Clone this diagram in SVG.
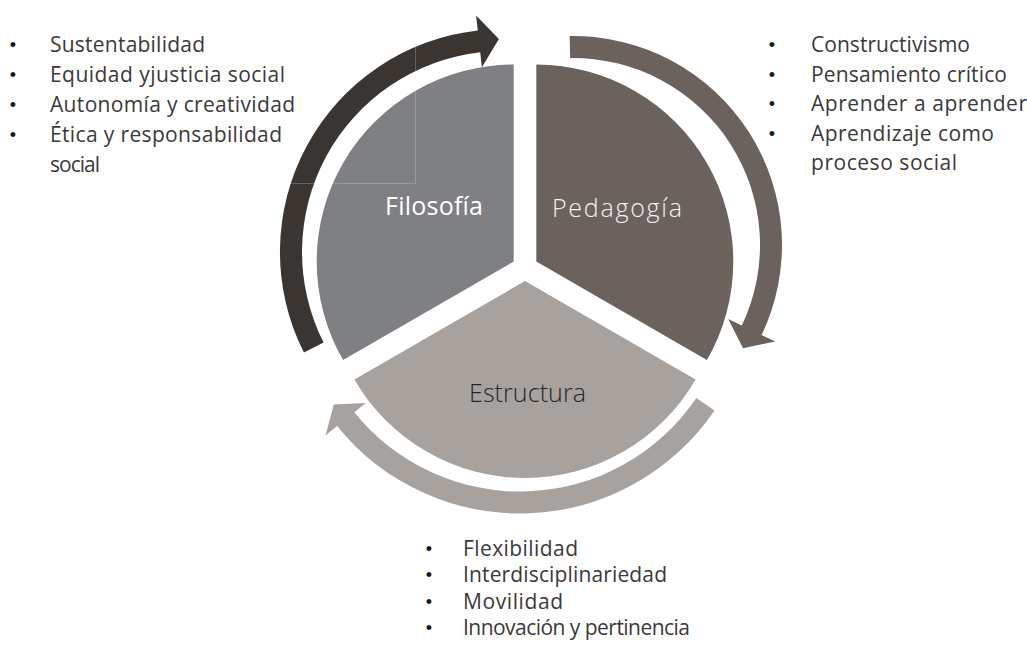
<svg xmlns="http://www.w3.org/2000/svg" width="1027" height="648" viewBox="0 0 1027 648">
  <style>
    .list { font-family: "Open Sans", "Noto Sans", "Liberation Sans", sans-serif; font-weight: 400; font-size: 21px; fill: #3a3a3a; }
    .bul { font-family: "Liberation Sans", sans-serif; font-size: 18px; fill: #1a1a1a; text-anchor: middle; }
    .lbl { font-family: "Open Sans", "Noto Sans", "Liberation Sans", sans-serif; font-weight: 300; font-size: 25px; }
    .lbl-strong { font-weight: 400; }
  </style>
  <rect width="1027" height="648" fill="#ffffff"/>

  <g id="connectors">
    <path id="arrow-filosofia" fill="#3b3531" d="M 303.9 352.5 A 223 223 0 0 1 477.8 30.4 L 476.1 15.5 L 498.9 39.1 L 481.9 67.2 L 480.2 52.3 A 201 201 0 0 0 323.6 342.6 Z"/>
    <path id="arrow-pedagogia" fill="#6b625e" d="M 569.7 36 A 209 209 0 0 1 761.6 335 L 775.2 341.4 L 743.1 348.3 L 728.2 319 L 741.8 325.5 A 187 187 0 0 0 570.1 58 Z"/>
    <path id="arrow-estructura" fill="#a8a29f" d="M 714.5 410.4 A 235 235 0 0 1 337.1 426.1 L 325.5 435.5 L 333.8 404.4 L 365.9 402.9 L 354.3 412.3 A 213 213 0 0 0 696.3 398.1 Z"/>
  </g>

  <g id="node-filosofia">
    <path fill="#7f8084" d="M 513.7 261.5 L 343.1 360 A 197 197 0 0 1 513.7 64.5 Z"/>
    <text class="lbl lbl-strong" x="385" y="215" fill="#ffffff" textLength="98">Filosofía</text>
  </g>
  <g id="node-pedagogia">
    <path fill="#6b625e" d="M 536.3 261.5 L 536.3 64.5 A 197 197 0 0 1 706.9 360 Z"/>
    <text class="lbl" x="552" y="217" fill="#f2f2f2" textLength="130">Pedagogía</text>
  </g>
  <g id="node-estructura">
    <path fill="#a8a29f" d="M 525 281 L 695.6 379.5 A 197 197 0 0 1 354.4 379.5 Z"/>
    <text class="lbl" x="469" y="402" fill="#262626" textLength="117">Estructura</text>
  </g>

  <g id="guide-lines" stroke="#ffffff" stroke-opacity="0.22" stroke-width="1" fill="none">
    <line x1="415.5" y1="43" x2="415.5" y2="183.5"/>
    <line x1="290" y1="183.5" x2="415.5" y2="183.5"/>
  </g>

  <g id="list-filosofia">
    <text class="bul" x="13" y="51">•</text>
    <text class="list" x="50" y="52" textLength="155">Sustentabilidad</text>
    <text class="bul" x="13" y="81">•</text>
    <text class="list" x="50" y="82" textLength="235">Equidad yjusticia social</text>
    <text class="bul" x="13" y="111">•</text>
    <text class="list" x="50" y="112" textLength="245">Autonomía y creatividad</text>
    <text class="bul" x="13" y="141">•</text>
    <text class="list" x="50" y="142" textLength="232">Ética y responsabilidad</text>
    <text class="list" x="50" y="172" textLength="50">social</text>
  </g>

  <g id="list-pedagogia">
    <text class="bul" x="772" y="51">•</text>
    <text class="list" x="811" y="52" textLength="159">Constructivismo</text>
    <text class="bul" x="772" y="80.5">•</text>
    <text class="list" x="811" y="81.5" textLength="196">Pensamiento crítico</text>
    <text class="bul" x="772" y="110">•</text>
    <text class="list" x="811" y="111" textLength="216">Aprender a aprender</text>
    <text class="bul" x="772" y="139.5">•</text>
    <text class="list" x="811" y="140.5" textLength="183">Aprendizaje como</text>
    <text class="list" x="811" y="170" textLength="146">proceso social</text>
  </g>

  <g id="list-estructura">
    <text class="bul" x="429" y="554.5">•</text>
    <text class="list" x="463" y="555.5" textLength="115">Flexibilidad</text>
    <text class="bul" x="429" y="581">•</text>
    <text class="list" x="463" y="582" textLength="204">Interdisciplinariedad</text>
    <text class="bul" x="429" y="607.5">•</text>
    <text class="list" x="463" y="608.5" textLength="100">Movilidad</text>
    <text class="bul" x="429" y="634">•</text>
    <text class="list" x="463" y="635" textLength="227">Innovación y pertinencia</text>
  </g>
</svg>
